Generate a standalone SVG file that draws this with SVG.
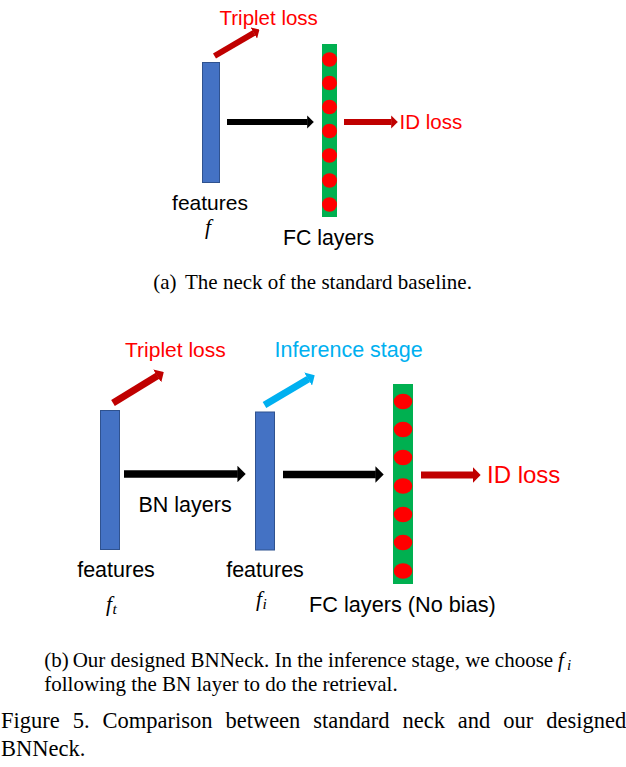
<svg xmlns="http://www.w3.org/2000/svg" width="626" height="767" viewBox="0 0 626 767">
<style>
.lbl{font-family:"Liberation Sans",Arial,sans-serif;fill:#000}
.red{fill:#FF0000}
.cyan{fill:#00B0F0}
.cap{font-family:"Liberation Serif","Times New Roman",serif;fill:#000}
.math{font-family:"Liberation Serif","Times New Roman",serif;font-style:italic;fill:#000}
.feat{fill:#4472C4;stroke:#2F528F;stroke-width:1}
.fc{fill:#00B050}
.dot{fill:#FF0000}
.arr{fill:none;stroke-linecap:butt}
.blk{stroke:#000}
.dred{stroke:#C00000}
.cy{stroke:#00B0F0}
</style>
<defs>
<marker id="hb" markerWidth="1.1" markerHeight="2.2" refX="0.05" refY="1.1" orient="auto" markerUnits="strokeWidth"><path d="M0,0 L1.1,1.1 L0,2.2 z" fill="#000"/></marker>
<marker id="hr" markerWidth="1.1" markerHeight="2.2" refX="0.05" refY="1.1" orient="auto" markerUnits="strokeWidth"><path d="M0,0 L1.1,1.1 L0,2.2 z" fill="#C00000"/></marker>
<marker id="hc" markerWidth="1.1" markerHeight="2.2" refX="0.05" refY="1.1" orient="auto" markerUnits="strokeWidth"><path d="M0,0 L1.1,1.1 L0,2.2 z" fill="#00B0F0"/></marker>
</defs>

<!-- (a) standard baseline -->
<g id="a-features">
<rect class="feat" x="202.5" y="62.5" width="17" height="120"/>
<text class="lbl" x="210" y="210" font-size="21" text-anchor="middle">features</text>
<text class="math" x="205" y="234" font-size="21.5">f</text>
</g>
<g id="a-fc">
<rect class="fc" x="322" y="44" width="15" height="173"/>
<ellipse class="dot" cx="329.5" cy="59.5" rx="7.5" ry="7.3"/>
<ellipse class="dot" cx="329.5" cy="83" rx="7.5" ry="7.3"/>
<ellipse class="dot" cx="329.5" cy="107" rx="7.5" ry="7.3"/>
<ellipse class="dot" cx="329.5" cy="131" rx="7.5" ry="7.3"/>
<ellipse class="dot" cx="329.5" cy="155.5" rx="7.5" ry="7.3"/>
<ellipse class="dot" cx="329.5" cy="180.5" rx="7.5" ry="7.3"/>
<ellipse class="dot" cx="329.5" cy="204.5" rx="7.5" ry="7.3"/>
<text class="lbl" x="328.5" y="245" font-size="21.3" text-anchor="middle">FC layers</text>
</g>
<g id="a-triplet">
<text class="lbl red" x="219.5" y="25" font-size="20.5">Triplet loss</text>
</g>
<g id="a-idloss">
<text class="lbl red" x="399.5" y="128.5" font-size="20.5">ID loss</text>
</g>

<!-- (b) BNNeck -->
<g id="b-ft">
<rect class="feat" x="100.5" y="410.5" width="19" height="139"/>
<text class="lbl" x="116" y="577" font-size="21.5" text-anchor="middle">features</text>
<text class="math" x="106" y="611" font-size="21.5">f</text>
<text class="math" x="112.5" y="614" font-size="15.5">t</text>
</g>
<g id="b-fi">
<rect class="feat" x="255.5" y="412" width="19" height="138"/>
<text class="lbl" x="265" y="577" font-size="21.5" text-anchor="middle">features</text>
<text class="math" x="256" y="606" font-size="21.5">f</text>
<text class="math" x="262.5" y="609" font-size="15.5">i</text>
</g>
<g id="b-fc">
<rect class="fc" x="393" y="384" width="20" height="200"/>
<ellipse class="dot" cx="403" cy="401.5" rx="9.3" ry="7.8"/>
<ellipse class="dot" cx="403" cy="429.5" rx="9.3" ry="7.8"/>
<ellipse class="dot" cx="403" cy="457.5" rx="9.3" ry="7.8"/>
<ellipse class="dot" cx="403" cy="486" rx="9.3" ry="7.8"/>
<ellipse class="dot" cx="403" cy="514.5" rx="9.3" ry="7.8"/>
<ellipse class="dot" cx="403" cy="542.5" rx="9.3" ry="7.8"/>
<ellipse class="dot" cx="403" cy="571" rx="9.3" ry="7.8"/>
<text class="lbl" x="309" y="612" font-size="21.7">FC layers (No bias)</text>
</g>
<g id="b-triplet">
<text class="lbl red" x="125" y="357" font-size="21">Triplet loss</text>
</g>
<g id="b-inference">
<text class="lbl cyan" x="274.5" y="357" font-size="21.5">Inference stage</text>
</g>
<g id="b-bn">
<text class="lbl" x="138.5" y="512" font-size="21.5">BN layers</text>
</g>
<g id="b-idloss">
<text class="lbl red" x="487" y="483" font-size="24">ID loss</text>
</g>

<g id="connectors">
<line class="arr dred" x1="214.5" y1="56" x2="254" y2="32.8" stroke-width="6" marker-end="url(#hr)"/>
<line class="arr blk" x1="227" y1="122" x2="307.5" y2="122" stroke-width="6" marker-end="url(#hb)"/>
<line class="arr dred" x1="344" y1="122" x2="391.5" y2="122" stroke-width="6" marker-end="url(#hr)"/>
<line class="arr dred" x1="113" y1="403" x2="157.5" y2="375.8" stroke-width="7" marker-end="url(#hr)"/>
<line class="arr cy" x1="264.5" y1="405" x2="308.4" y2="378.9" stroke-width="7" marker-end="url(#hc)"/>
<line class="arr blk" x1="124" y1="474" x2="237.8" y2="474" stroke-width="7.5" marker-end="url(#hb)"/>
<line class="arr blk" x1="283" y1="474.5" x2="375.8" y2="474.5" stroke-width="7.5" marker-end="url(#hb)"/>
<line class="arr dred" x1="421" y1="475" x2="473.3" y2="475" stroke-width="7" marker-end="url(#hr)"/>
</g>

<!-- captions -->
<text class="cap" x="153.3" y="288.5" font-size="21">(a)</text>
<text class="cap" x="185" y="288.5" font-size="21">The neck of the standard baseline.</text>
<text class="cap" x="44.3" y="667" font-size="21">(b)</text>
<text class="cap" x="72.7" y="667" font-size="21">Our designed BNNeck. In the inference stage, we choose</text>
<text class="math" x="558" y="667" font-size="21">f</text>
<text class="math" x="567" y="670" font-size="15">i</text>
<text class="cap" x="44.3" y="691" font-size="21">following the BN layer to do the retrieval.</text>
<text class="cap" x="1" y="728" font-size="22.5" word-spacing="7.3">Figure 5. Comparison between standard neck and our designed</text>
<text class="cap" x="1" y="756" font-size="22.5">BNNeck.</text>
</svg>
